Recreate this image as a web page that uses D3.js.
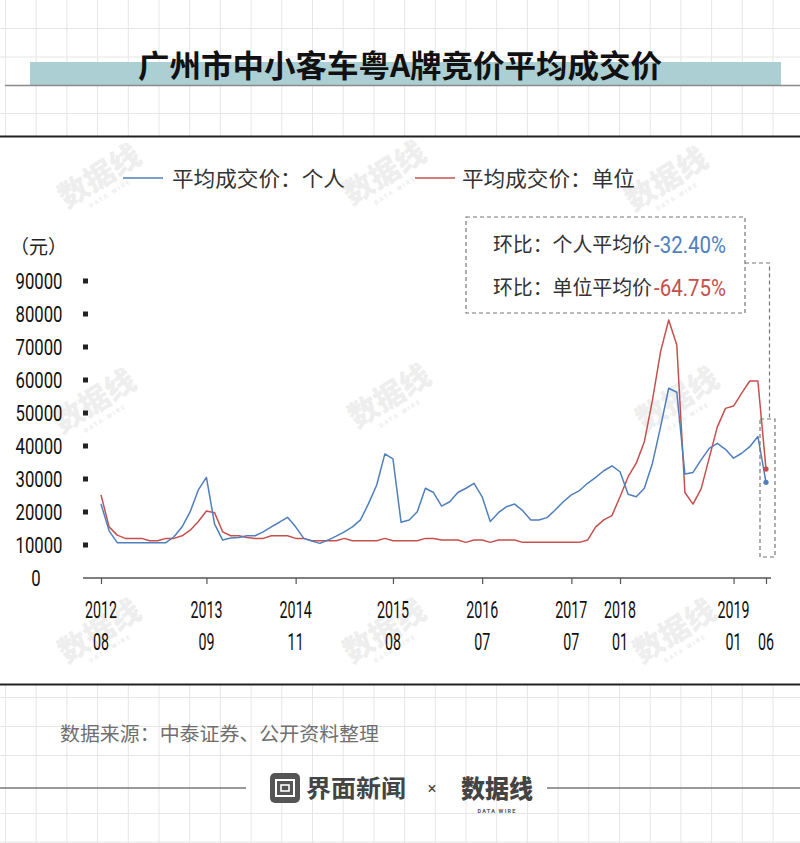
<!DOCTYPE html>
<html><head><meta charset="utf-8">
<script src="https://cdn.jsdelivr.net/npm/d3@7"></script>
<style>body{margin:0;background:#fff;} svg{display:block;}</style>
</head><body><svg id="c" width="800" height="843"></svg>
<script>
// ---------- data ----------
const title = "广州市中小客车粤A牌竞价平均成交价";
const seriesNames = ["平均成交价：个人", "平均成交价：单位"];
const personal = [22400,14300,10700,10700,10700,10700,10700,10700,10700,12500,
  15500,20100,26700,30500,16400,11500,12100,12300,12800,12800,
  14000,15500,16900,18400,15500,12000,11200,10500,11500,12700,
  14000,15500,17600,22600,28200,37600,36100,16900,17600,20100,
  27200,25900,21800,23100,25900,27200,28700,24600,17100,19800,
  21600,22400,20400,17600,17600,18300,20600,23100,25200,26500,
  28700,30500,32500,34000,32200,25400,24600,27200,34800,45800,
  57500,56300,31500,32000,35800,39300,40800,39000,36300,37800,
  39800,42900,29000];
const unit = [25200,15500,13000,12000,12000,12000,11300,11300,12000,12000,
  12800,14500,17100,20300,19800,14000,12800,12800,12300,12000,
  12000,12800,12800,12800,12000,12000,11300,11300,11300,11300,
  12000,11300,11300,11300,11300,12000,11300,11300,11300,11300,
  12000,12000,11500,11500,11500,10800,11500,11500,10800,11500,
  11500,11500,10800,10800,10800,10800,10800,10800,10800,10800,
  11500,15500,17600,18900,24600,30700,34800,41300,53900,68600,
  78200,70600,25900,22400,27000,36400,45800,51400,52100,56000,
  59700,59700,33000];
const tickIndex = [0, 13, 24, 36, 47, 58, 64, 78, 82];
const tickYear  = ["2012","2013","2014","2015","2016","2017","2018","2019",""];
const tickMonth = ["08","09","11","08","07","07","01","01","06"];
const yTicks = [10000,20000,30000,40000,50000,60000,70000,80000,90000];
const yLabels = ["0","10000","20000","30000","40000","50000","60000","70000","80000","90000"];
const yUnit = "（元）";
const noteLabels = ["环比：个人平均价", "环比：单位平均价"];
const noteValues = ["-32.40%", "-64.75%"];
const sourceText = "数据来源：中泰证券、公开资料整理";

const BLUE = "#4f7fbd", RED = "#c5504d";
const CJK = "'Noto Sans CJK SC','Noto Sans',sans-serif";
const NUM = "Roboto,'Liberation Sans',sans-serif";

const svg = d3.select("#c");

// ---------- background grid (top and bottom bands) ----------
const grid = svg.append("g").attr("stroke", "#e6e6e6").attr("stroke-width", 1);
const gx = d3.range(5.5, 800, 30.7);
function gridBand(y0, y1, ys) {
  gx.forEach(x => grid.append("line").attr("x1", x).attr("x2", x).attr("y1", y0).attr("y2", y1));
  ys.forEach(y => grid.append("line").attr("x1", 0).attr("x2", 800).attr("y1", y).attr("y2", y));
}
gridBand(0, 136, [28.5, 57, 113.5]);
gridBand(685, 843, [697.5, 726.5, 755.5, 813.5, 842]);

// ---------- title ----------
svg.append("rect").attr("x", 30).attr("y", 62).attr("width", 751).attr("height", 23).attr("fill", "#abcfd3");
svg.append("line").attr("x1", 5).attr("x2", 800).attr("y1", 85.5).attr("y2", 85.5).attr("stroke", "#8a8a8a").attr("stroke-width", 1.5);
svg.append("text").attr("x", 400).attr("y", 77).attr("text-anchor", "middle")
  .attr("font-family", CJK).attr("font-weight", 700).attr("font-size", 31)
  .attr("textLength", 524).attr("lengthAdjust", "spacingAndGlyphs")
  .attr("fill", "#111").text(title);
svg.append("line").attr("x1", 0).attr("x2", 800).attr("y1", 136.5).attr("y2", 136.5).attr("stroke", "#222").attr("stroke-width", 2);
svg.append("line").attr("x1", 0).attr("x2", 800).attr("y1", 684.5).attr("y2", 684.5).attr("stroke", "#222").attr("stroke-width", 2);

// ---------- watermarks ----------
const wmPos = [[105,185],[390,182],[672,188],[100,410],[395,405],[683,408],[105,640],[390,640],[680,640]];
wmPos.forEach(([x, y]) => {
  const g = svg.append("g").attr("transform", `translate(${x},${y}) rotate(-32)`).attr("opacity", 0.4);
  g.append("text").attr("text-anchor", "middle").attr("font-family", CJK).attr("font-weight", 900)
    .attr("font-size", 30).attr("fill", "#d6d6d6").text("数据线");
  g.append("text").attr("y", 12).attr("text-anchor", "middle").attr("font-family", NUM).attr("font-weight", 700)
    .attr("font-size", 6).attr("letter-spacing", 2).attr("fill", "#d0d0d0").text("DATA WIRE");
});

// ---------- scales ----------
const x = d3.scalePoint().domain(d3.range(personal.length)).range([101, 766]);
const y = d3.scaleLinear().domain([0, 90000]).range([578, 281]);

// ---------- legend ----------
const legend = [[123, 172, BLUE, seriesNames[0]], [415, 462, RED, seriesNames[1]]];
legend.forEach(([lx, tx, c, t]) => {
  svg.append("line").attr("x1", lx).attr("x2", lx + 40).attr("y1", 178).attr("y2", 178).attr("stroke", c).attr("stroke-width", 1.5);
  svg.append("text").attr("x", tx).attr("y", 185.5).attr("font-family", CJK).attr("font-size", 21)
    .attr("textLength", 173).attr("lengthAdjust", "spacingAndGlyphs").attr("fill", "#333").text(t);
});

// ---------- y axis ----------
svg.append("text").attr("x", 10).attr("y", 254).attr("font-family", CJK).attr("font-size", 19).attr("fill", "#222").text(yUnit);
yLabels.forEach((t, i) => {
  const v = i * 10000;
  svg.append("g").attr("transform", `translate(${i === 0 ? 36 : 39},${y(v) + 8}) scale(0.76,1)`)
    .append("text").attr("text-anchor", "middle").attr("font-family", NUM).attr("font-size", 22)
    .attr("fill", "#111").text(t);
});
svg.selectAll("rect.ytick").data(yTicks).join("rect").attr("class", "ytick")
  .attr("x", 83).attr("y", d => y(d) - 2.5).attr("width", 5).attr("height", 5).attr("fill", "#222");

// ---------- x axis ----------
svg.append("line").attr("x1", 83).attr("x2", 771).attr("y1", 578).attr("y2", 578).attr("stroke", "#555").attr("stroke-width", 1.5);
const xa = svg.append("g").attr("transform", "translate(0,578)")
  .call(d3.axisBottom(x).tickValues(tickIndex).tickSize(6).tickFormat(""));
xa.select(".domain").remove();
xa.selectAll(".tick line").attr("stroke", "#555").attr("stroke-width", 1.2);
tickIndex.forEach((ti, k) => {
  const cx = x(ti);
  if (tickYear[k]) {
    svg.append("g").attr("transform", `translate(${cx},618) scale(0.62,1)`)
      .append("text").attr("text-anchor", "middle").attr("font-family", NUM).attr("font-size", 23)
      .attr("fill", "#111").text(tickYear[k]);
  }
  svg.append("g").attr("transform", `translate(${cx},650) scale(0.62,1.05)`)
    .append("text").attr("text-anchor", "middle").attr("font-family", NUM).attr("font-size", 23)
    .attr("fill", "#111").text(tickMonth[k]);
});

// ---------- lines ----------
const line = d3.line().x((d, i) => x(i)).y(d => y(d));
svg.append("path").datum(unit).attr("d", line).attr("fill", "none").attr("stroke", RED).attr("stroke-width", 1.5).attr("stroke-linejoin", "round");
svg.append("path").datum(personal).attr("d", line).attr("fill", "none").attr("stroke", BLUE).attr("stroke-width", 1.5).attr("stroke-linejoin", "round");
const last = personal.length - 1;
svg.append("circle").attr("cx", x(last)).attr("cy", y(unit[last])).attr("r", 2.6).attr("fill", RED);
svg.append("circle").attr("cx", x(last)).attr("cy", y(personal[last])).attr("r", 2.6).attr("fill", BLUE);

// ---------- annotation ----------
const dash = "4,3";
svg.append("rect").attr("x", 466).attr("y", 217).attr("width", 279).attr("height", 96)
  .attr("fill", "none").attr("stroke", "#777").attr("stroke-width", 1.2).attr("stroke-dasharray", dash);
svg.append("path").attr("d", `M745,263H769.5V419`).attr("fill", "none").attr("stroke", "#777").attr("stroke-width", 1.2).attr("stroke-dasharray", dash);
svg.append("rect").attr("x", x(last) - 6).attr("y", 419).attr("width", 15).attr("height", 138)
  .attr("fill", "none").attr("stroke", "#777").attr("stroke-width", 1.2).attr("stroke-dasharray", dash);
[[252, BLUE], [295, RED]].forEach(([by, c], i) => {
  svg.append("text").attr("x", 493).attr("y", by).attr("font-family", CJK).attr("font-size", 20)
    .attr("textLength", 159).attr("lengthAdjust", "spacingAndGlyphs").attr("fill", "#333").text(noteLabels[i]);
  svg.append("text").attr("x", 654).attr("y", by + 1).attr("font-family", NUM).attr("font-size", 23)
    .attr("textLength", 72).attr("lengthAdjust", "spacingAndGlyphs").attr("fill", c).text(noteValues[i]);
});

// ---------- footer ----------
svg.append("text").attr("x", 60).attr("y", 741).attr("font-family", CJK).attr("font-size", 19.5)
  .attr("textLength", 319).attr("lengthAdjust", "spacingAndGlyphs").attr("fill", "#6f6f6f").text(sourceText);
svg.append("line").attr("x1", 0).attr("x2", 246).attr("y1", 788).attr("y2", 788).attr("stroke", "#777").attr("stroke-width", 1.5);
svg.append("line").attr("x1", 547).attr("x2", 800).attr("y1", 788).attr("y2", 788).attr("stroke", "#777").attr("stroke-width", 1.5);
svg.append("rect").attr("x", 270).attr("y", 773).attr("width", 30).attr("height", 30).attr("rx", 5).attr("fill", "#555");
svg.append("rect").attr("x", 276).attr("y", 780).attr("width", 18).attr("height", 16).attr("fill", "none").attr("stroke", "#fff").attr("stroke-width", 2);
svg.append("rect").attr("x", 281).attr("y", 785).attr("width", 8).attr("height", 6).attr("fill", "none").attr("stroke", "#fff").attr("stroke-width", 1.6);
svg.append("text").attr("x", 306).attr("y", 797).attr("font-family", CJK).attr("font-weight", 700).attr("font-size", 24)
  .attr("textLength", 100).attr("lengthAdjust", "spacingAndGlyphs").attr("fill", "#444").text("界面新闻");
svg.append("text").attr("x", 432).attr("y", 794).attr("text-anchor", "middle").attr("font-family", NUM).attr("font-size", 16).attr("fill", "#444").text("×");
svg.append("text").attr("x", 497).attr("y", 798).attr("text-anchor", "middle").attr("font-family", CJK).attr("font-weight", 900).attr("font-size", 25)
  .attr("textLength", 72).attr("lengthAdjust", "spacingAndGlyphs").attr("fill", "#444").text("数据线");
svg.append("text").attr("x", 497).attr("y", 813).attr("text-anchor", "middle").attr("font-family", NUM).attr("font-weight", 700).attr("font-size", 5.5)
  .attr("letter-spacing", 1.2).attr("fill", "#555").text("DATA WIRE");
</script></body></html>
